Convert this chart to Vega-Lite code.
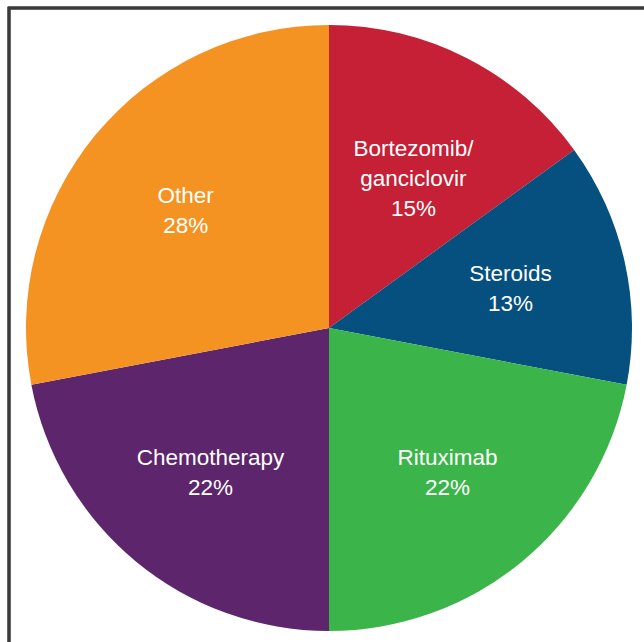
{
  "$schema": "https://vega.github.io/schema/vega-lite/v6.json",
  "autosize": "none",
  "padding": {"left": 9, "top": 8, "right": 0, "bottom": 0},
  "width": 640,
  "height": 640,
  "background": "white",
  "config": {"view": {"stroke": null}},
  "data": {
    "values": [
      {"category": "Bortezomib/ganciclovir", "percent": 15, "label": "Bortezomib/\nganciclovir\n15%", "order": 1},
      {"category": "Steroids", "percent": 13, "label": "Steroids\n13%", "order": 2},
      {"category": "Rituximab", "percent": 22, "label": "Rituximab\n22%", "order": 3},
      {"category": "Chemotherapy", "percent": 22, "label": "Chemotherapy\n22%", "order": 4},
      {"category": "Other", "percent": 28, "label": "Other\n28%", "order": 5}
    ]
  },
  "layer": [
    {
      "mark": {"type": "rect", "fill": null, "stroke": "#3a3a3a", "strokeWidth": 2.5},
      "encoding": {}
    },
    {
      "mark": {"type": "arc", "outerRadius": 303},
      "encoding": {
        "theta": {"field": "percent", "type": "quantitative", "stack": true},
        "order": {"field": "order", "type": "quantitative"},
        "color": {
          "field": "category",
          "type": "nominal",
          "scale": {
            "domain": ["Bortezomib/ganciclovir", "Steroids", "Rituximab", "Chemotherapy", "Other"],
            "range": ["#C52035", "#05507F", "#3BB54A", "#5D256B", "#F59322"]
          },
          "legend": null
        }
      }
    },
    {
      "mark": {
        "type": "text",
        "radius": 186,
        "dy": -13,
        "lineBreak": "\n",
        "lineHeight": 30,
        "fontSize": 22.5,
        "font": "Liberation Sans",
        "fill": "white",
        "align": "center",
        "baseline": "middle"
      },
      "encoding": {
        "theta": {"field": "percent", "type": "quantitative", "stack": true},
        "order": {"field": "order", "type": "quantitative"},
        "text": {"field": "label"}
      }
    }
  ]
}
